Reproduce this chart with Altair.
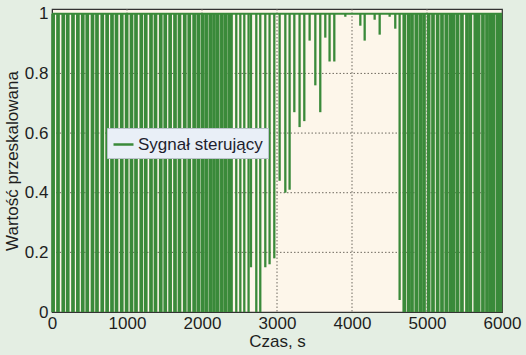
import altair as alt
import pandas as pd

# switching instants (s) and the minimum value the signal drops to at each
dense_t = [15, 80, 150, 210, 280, 345, 410, 470, 540, 600, 670, 735, 800, 860,
           930, 995, 1060, 1120, 1190, 1250, 1320, 1380, 1450, 1510, 1575, 1640,
           1700, 1770, 1830, 1895, 1950, 2005, 2055, 2110, 2160, 2210, 2265,
           2315, 2365, 2396, 2457, 2511, 2564, 2621, 2653, 2724, 2777, 2844,
           2901, 2964]
dense_min = [0, 0, 0, 0, 0, 0, 0, 0, 0, 0, 0, 0, 0, 0,
             0, 0, 0, 0, 0, 0, 0, 0, 0, 0, 0, 0,
             0, 0, 0, 0, 0, 0, 0, 0, 0, 0, 0,
             0, 0, 0, 0, 0, 0, 0, 0.15, 0, 0, 0.15,
             0.16, 0.18]
mid_t = [3035, 3111, 3168, 3231, 3301, 3364, 3435, 3511, 3577, 3644, 3701,
         3764, 3911, 4111, 4169, 4302, 4369, 4502, 4577]
mid_min = [0.44, 0.40, 0.41, 0.67, 0.62, 0.64, 0.91, 0.76, 0.67, 0.92, 0.84,
           0.84, 0.99, 0.96, 0.91, 0.98, 0.93, 0.99, 0.95]
late_t = [4635, 4697, 4755, 4800, 4857, 4911, 4960, 5022, 5080, 5142, 5200,
          5257, 5311, 5355, 5408, 5466, 5533, 5577, 5644, 5688, 5746, 5800,
          5844, 5870, 5888, 5942, 5977]
late_min = [0.04, 0, 0, 0, 0, 0, 0, 0, 0, 0, 0,
            0, 0, 0, 0, 0, 0, 0, 0, 0, 0, 0,
            0, 0.84, 0, 0, 0]

x_ticks = [0, 1000, 2000, 3000, 4000, 5000, 6000]
y_ticks = [0, 0.2, 0.4, 0.6, 0.8, 1]
series_name = "Sygnał sterujący"

df = pd.DataFrame({
    "t": dense_t + mid_t + late_t,
    "lo": dense_min + mid_min + late_min,
})
df["hi"] = 1.0
df["s"] = series_name

top = pd.DataFrame({"t0": [0], "t1": [6000], "v": [1.0], "s": [series_name]})

green = "#3a8a3a"
FONT = "Liberation Sans"

xscale = alt.Scale(domain=[0, 6000], nice=False, zero=False)
yscale = alt.Scale(domain=[0, 1.016], nice=False)

color = alt.Color("s:N", scale=alt.Scale(domain=[series_name], range=[green]),
                  legend=alt.Legend(title=None, orient="none", legendX=55, legendY=119,
                                    symbolType="stroke", symbolStrokeWidth=2.5,
                                    symbolSize=400, labelFontSize=17, labelFont=FONT,
                                    labelColor="#1e1e2e", fillColor="#e9eff7",
                                    strokeColor="#b9c2c9", padding=5, symbolOffset=0,
                                    labelOffset=3))

grid_x = alt.Chart(pd.DataFrame({"g": x_ticks[1:-1]})).mark_rule(
    color="#6f6a60", strokeDash=[1.5, 2], strokeWidth=1
).encode(x=alt.X("g:Q", scale=xscale))
grid_y = alt.Chart(pd.DataFrame({"g": y_ticks[1:-1]})).mark_rule(
    color="#6f6a60", strokeDash=[1.5, 2], strokeWidth=1
).encode(y=alt.Y("g:Q", scale=yscale))

hline = alt.Chart(top).mark_rule(strokeWidth=2.2).encode(
    x=alt.X("t0:Q", scale=xscale), x2="t1:Q",
    y=alt.Y("v:Q", scale=yscale), color=color)

x_enc = alt.X("t:Q", scale=xscale,
              axis=alt.Axis(title="Czas, s", values=x_ticks, format="d", grid=False,
                            ticks=False, labelFontSize=17, titleFontSize=17,
                            labelFont=FONT, titleFont=FONT, labelColor="#1e1e1e",
                            titleColor="#1e1e1e", titleFontWeight="normal",
                            labelPadding=3, titlePadding=2, domainColor="#333",
                            labelFlush=False))
y_enc = alt.Y("lo:Q", scale=yscale,
              axis=alt.Axis(title="Wartość przeskalowana", values=y_ticks, grid=False,
                            ticks=False, labelFontSize=17, titleFontSize=17,
                            labelFont=FONT, titleFont=FONT, labelColor="#1e1e1e",
                            titleColor="#1e1e1e", titleFontWeight="normal",
                            labelPadding=4, titlePadding=3, domainColor="#333",
                            labelExpr="datum.value == 1 ? '1' : datum.value == 0 ? '0' : format(datum.value, '.1f')"))

base = alt.Chart(df).encode(x=x_enc, y=y_enc, y2="hi:Q", color=color)

rules_wide = base.transform_filter(
    "datum.t < 2380 || datum.t > 4680").mark_rule(strokeWidth=3.7)
rules_thin = base.transform_filter(
    "datum.t >= 2380 && datum.t <= 4680").mark_rule(strokeWidth=2.3)

chart = alt.layer(grid_x, grid_y, hline, rules_wide, rules_thin).properties(
    width=450, height=303,
    autosize=alt.AutoSizeParams(type="none"),
    padding={"left": 52, "top": 9, "right": 24, "bottom": 43},
    background="#e4eee3",
).configure_view(fill="#fdf6ea", stroke="#333", strokeWidth=1.2)

chart.save("out.html", embed_options={"renderer": "svg", "actions": False})
